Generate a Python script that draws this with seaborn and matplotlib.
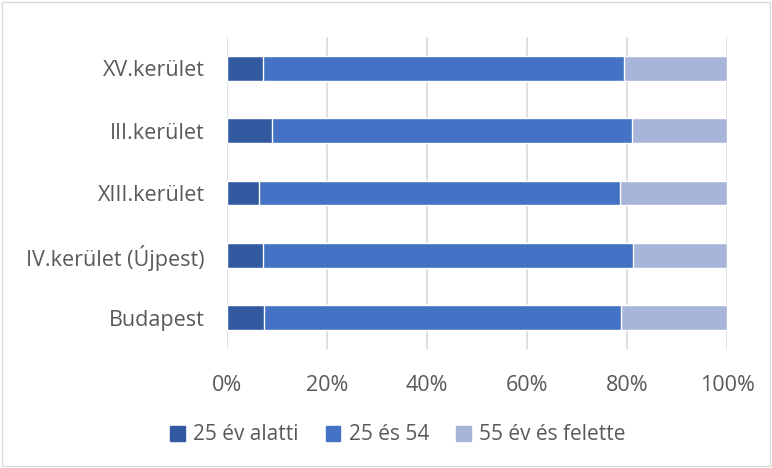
import numpy as np
import pandas as pd
from matplotlib import pyplot as plt
from matplotlib.patches import Rectangle
import seaborn as sns

categories = ['XV.kerület', 'III.kerület', 'XIII.kerület', 'IV.kerület (Újpest)', 'Budapest']
under_25 = [7.2, 8.9, 6.3, 7.1, 7.3]
age_25_54 = [72.1, 72.1, 72.3, 74.1, 71.5]
over_55 = [20.7, 19.0, 21.4, 18.8, 21.2]
series_names = ['25 év alatti', '25 és 54', '55 év és felette']
colors = ['#335AA1', '#4472C4', '#A7B5DA']

sns.set_theme(style='white')
plt.rcParams['font.family'] = ['Open Sans', 'DejaVu Sans']
text_color = '#595959'

df = pd.DataFrame({'cat': categories, 'a': under_25, 'b': age_25_54, 'c': over_55})
df['cum1'] = df['a']
df['cum2'] = df['a'] + df['b']
df['cum3'] = df['cum2'] + df['c']

fig = plt.figure(figsize=(7.72, 4.68), dpi=100)
ax = fig.add_axes([227 / 772, 1 - 349 / 468, 500 / 772, 312 / 468])

# draw from the widest cumulative bar down so the segments stack
for col, color in zip(['cum3', 'cum2', 'cum1'], colors[::-1]):
    sns.barplot(data=df, x=col, y='cat', orient='h', color=color,
                width=0.4, saturation=1, ax=ax, zorder=3)

ax.set_xlim(0, 100)
ax.set_xticks(np.arange(0, 101, 20))
ax.set_xticklabels(['%d%%' % v for v in range(0, 101, 20)])
ax.grid(axis='x', color='#D9D9D9', linewidth=1.2, zorder=0)
ax.set_axisbelow(True)
for s in ax.spines.values():
    s.set_visible(False)
ax.set_xlabel('')
ax.set_ylabel('')
ax.tick_params(axis='both', length=0, labelsize=15.5, labelcolor=text_color)
ax.tick_params(axis='x', pad=19)
ax.tick_params(axis='y', pad=16)

handles = [Rectangle((0, 0), 1, 1, color=c) for c in colors]
fig.legend(handles, series_names, loc='center', bbox_to_anchor=(398 / 772, 1 - 435 / 468),
           ncol=3, frameon=False, fontsize=15, labelcolor=text_color,
           handlelength=0.7, handleheight=0.7, handletextpad=0.4, columnspacing=1.3)

fig.patches.append(Rectangle((2 / 772, 2 / 468), 768 / 772, 464 / 468, transform=fig.transFigure,
                             fill=False, edgecolor='#D9D9D9', linewidth=1))

fig.savefig('out.png', dpi=100)
